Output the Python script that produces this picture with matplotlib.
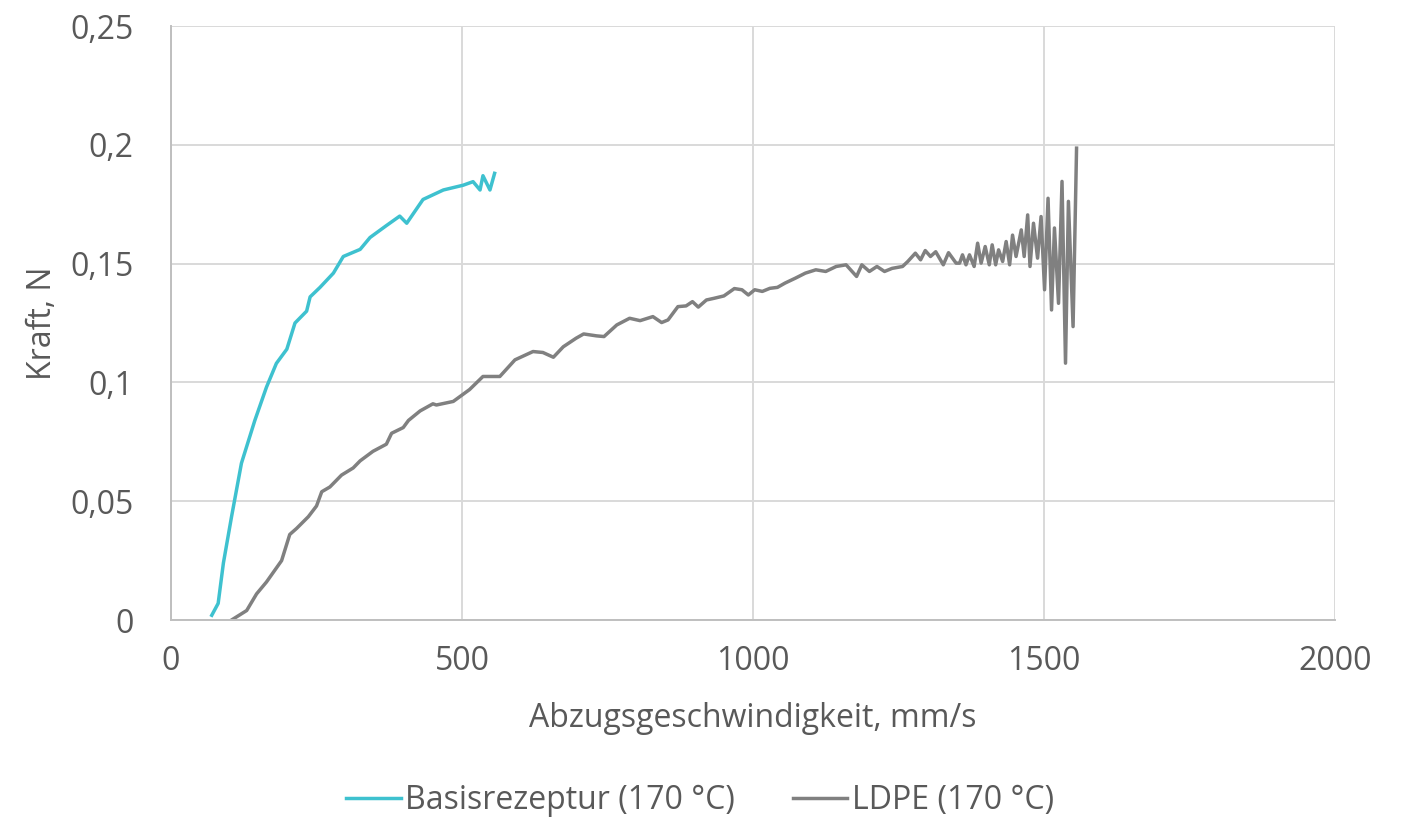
import matplotlib
matplotlib.use("Agg")
import matplotlib.pyplot as plt

# values
basis_x = [70, 81, 90, 104, 121, 144, 164, 181, 199, 213, 233, 239, 256, 279, 296,
           325, 342, 370, 393, 405, 433, 468, 502, 519, 531, 536, 548, 556]
basis_y = [0.002, 0.007, 0.024, 0.0435, 0.066, 0.084, 0.098, 0.108, 0.114, 0.125,
           0.130, 0.136, 0.140, 0.146, 0.153, 0.156, 0.161, 0.166, 0.170, 0.167,
           0.177, 0.181, 0.183, 0.1845, 0.181, 0.187, 0.181, 0.188]

ldpe_x = [104, 130, 147, 164, 190, 204, 216, 236, 250, 259, 273, 293, 313, 325, 347,
          370, 379, 399, 408, 428, 450, 456, 485, 513, 536, 565, 591, 622, 639, 657,
          674, 696, 709, 731, 744, 766, 788, 806, 828, 843, 854, 871, 885, 896, 906,
          920, 933, 950, 968, 981, 992, 1003, 1016, 1029, 1042, 1055, 1073, 1090, 1108,
          1125, 1143, 1160, 1178, 1187, 1200, 1213, 1226, 1239, 1257, 1266, 1279, 1288,
          1296, 1305, 1314, 1327, 1336, 1349, 1355, 1360, 1366, 1372, 1380, 1386, 1392,
          1399, 1406, 1411, 1417, 1422, 1429, 1435, 1441, 1446, 1452, 1461, 1466, 1472,
          1476, 1482, 1489, 1495, 1501, 1507, 1513, 1518, 1525, 1531, 1537, 1542, 1550,
          1556]
ldpe_y = [0.0, 0.004, 0.011, 0.016, 0.025, 0.036, 0.0386, 0.0435, 0.048, 0.054, 0.056,
          0.061, 0.064, 0.067, 0.071, 0.074, 0.0786, 0.081, 0.084, 0.088, 0.091, 0.0905,
          0.092, 0.097, 0.1025, 0.1025, 0.1095, 0.113, 0.1126, 0.1106, 0.115, 0.1186,
          0.1204, 0.1196, 0.1193, 0.1242, 0.127, 0.126, 0.1277, 0.1252, 0.1263, 0.1319,
          0.1322, 0.134, 0.1317, 0.1347, 0.1354, 0.1364, 0.1395, 0.139, 0.1368, 0.139,
          0.1383, 0.1396, 0.14, 0.1418, 0.1439, 0.146, 0.1474, 0.1467, 0.1488, 0.1495,
          0.1446, 0.1495, 0.1467, 0.1488, 0.1467, 0.148, 0.1488, 0.1509, 0.1544, 0.1516,
          0.1555, 0.153, 0.155, 0.1495, 0.1546, 0.1502, 0.1502, 0.1537, 0.1495, 0.1537,
          0.1488, 0.1586, 0.1502, 0.1572, 0.1495, 0.1579, 0.1495, 0.1558, 0.1509, 0.1593,
          0.1495, 0.162, 0.153, 0.1642, 0.153, 0.1705, 0.1488, 0.167, 0.1523, 0.1698,
          0.139, 0.1775, 0.1305, 0.165, 0.1333, 0.1846, 0.1081, 0.1762, 0.1235, 0.1986]

x_ticks = [0, 500, 1000, 1500, 2000]
x_ticklabels = ["0", "500", "1000", "1500", "2000"]
y_ticks = [0, 0.05, 0.1, 0.15, 0.2, 0.25]
y_ticklabels = ["0", "0,05", "0,1", "0,15", "0,2", "0,25"]

plt.rcParams['font.family'] = ['Open Sans', 'DejaVu Sans']
text_color = '#595959'
fs = 23

fig = plt.figure(figsize=(14.03, 8.21), dpi=100, facecolor='w')
ax = fig.add_axes([0.1219, 0.2448, 0.8296, 0.7235])

ax.plot(basis_x, basis_y, color='#3EC1CF', lw=2.5, label='Basisrezeptur (170 °C)',
        solid_joinstyle='round')
ax.plot(ldpe_x, ldpe_y, color='#808080', lw=2.5, label='LDPE (170 °C)',
        solid_joinstyle='round')

ax.set_xlim(0, 2000)
ax.set_ylim(0, 0.25)
ax.set_xticks(x_ticks)
ax.set_xticklabels(x_ticklabels)
ax.set_yticks(y_ticks)
ax.set_yticklabels(y_ticklabels)
ax.tick_params(length=0, labelsize=fs, colors=text_color)
ax.tick_params(axis='x', pad=18)
ax.tick_params(axis='y', pad=27)

ax.grid(True, color='#d9d9d9', lw=1.4)
ax.set_axisbelow(True)
for side in ['top', 'right']:
    ax.spines[side].set_visible(False)
for side in ['left', 'bottom']:
    ax.spines[side].set_color('#bfbfbf')
    ax.spines[side].set_linewidth(1.4)

ax.set_xlabel("Abzugsgeschwindigkeit, mm/s", fontsize=fs, color=text_color, labelpad=17)
ax.set_ylabel("Kraft, N", fontsize=fs, color=text_color, labelpad=8)

fig.legend(loc='center', bbox_to_anchor=(0.499, 0.025), ncol=2, frameon=False,
           fontsize=fs, labelcolor=text_color, handlelength=1.7, handletextpad=0.15,
           columnspacing=1.8)

fig.savefig("out.png", dpi=100)
